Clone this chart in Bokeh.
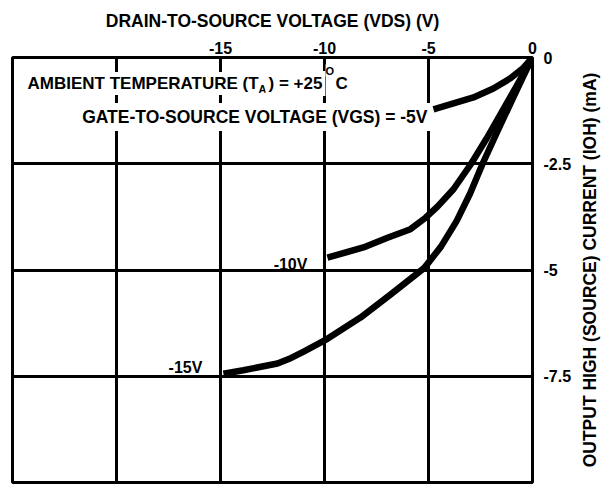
import math
from bokeh.plotting import figure
from bokeh.layouts import row
from bokeh.models import LinearAxis, FixedTicker, Label, Range1d, Grid
from bokeh.core.properties import value
from bokeh.embed import file_html
from bokeh.resources import INLINE

# ---- data ----
x_ticks = [-15, -10, -5, 0]
x_tick_labels = ["-15", "-10", "-5", "0"]
x_grid = [-20, -15, -10, -5]
y_ticks = [0, -2.5, -5, -7.5]
y_tick_labels = ["0", "-2.5", "-5", "-7.5"]
y_grid = [-2.5, -5, -7.5]

# VGS = -5V
vgs5_vds = [-4.76, -3.80, -2.84, -1.88, -1.06, -0.43, 0.0]
vgs5_ioh = [-1.22, -1.08, -0.94, -0.73, -0.49, -0.24, 0.0]

# VGS = -10V
vgs10_vds = [-9.86, -8.13, -6.97, -5.87, -5.14, -4.57, -3.80, -2.95, -2.2, -1.5, -0.8, 0.0]
vgs10_ioh = [-4.71, -4.47, -4.24, -4.04, -3.77, -3.51, -3.10, -2.50, -1.9, -1.3, -0.7, 0.0]

# VGS = -15V
vgs15_vds = [-14.86, -13.9, -12.26, -11.6, -11.0, -9.86, -8.27, -6.83, -5.2, -4.4, -3.65, -3.0, -2.4, -1.7, -1.0, -0.45, 0.0]
vgs15_ioh = [-7.44, -7.36, -7.20, -7.07, -6.92, -6.62, -6.12, -5.58, -4.95, -4.45, -3.85, -3.2, -2.5, -1.75, -1.02, -0.45, 0.0]

x_title = "DRAIN-TO-SOURCE VOLTAGE (VDS) (V)"
y_title = "OUTPUT HIGH (SOURCE) CURRENT (IOH) (mA)"

FONT = "Liberation Sans"

p = figure(width=575, height=485, x_range=Range1d(-25, 0), y_range=Range1d(-10, 0),
           output_backend="svg", toolbar_location=None,
           x_axis_location=None, y_axis_location=None,
           min_border_left=12, min_border_right=43, min_border_top=57, min_border_bottom=3)
p.grid.visible = False
p.outline_line_color = "black"
p.outline_line_width = 3
p.outline_line_alpha = 1.0
p.background_fill_color = "white"
p.border_fill_color = "white"

p.add_layout(Grid(dimension=0, ticker=FixedTicker(ticks=x_grid),
                  grid_line_color="black", grid_line_width=3))
p.add_layout(Grid(dimension=1, ticker=FixedTicker(ticks=y_grid),
                  grid_line_color="black", grid_line_width=3))

ax = LinearAxis(ticker=FixedTicker(ticks=x_ticks),
                major_label_overrides=dict(zip(x_ticks, x_tick_labels)),
                axis_label=x_title)
ay = LinearAxis(ticker=FixedTicker(ticks=y_ticks),
                major_label_overrides=dict(zip(y_ticks, y_tick_labels)))
for a in (ax, ay):
    a.axis_line_color = None
    a.major_tick_line_color = None
    a.minor_tick_line_color = None
    a.major_tick_out = 0
    a.major_tick_in = 0
    a.minor_tick_out = 0
    a.minor_tick_in = 0
    a.major_label_text_font = FONT
    a.major_label_text_font_style = "bold"
    a.major_label_text_font_size = "16px"
    a.major_label_text_color = "black"
    a.axis_label_text_font = FONT
    a.axis_label_text_font_style = "bold"
    a.axis_label_text_font_size = "17.5px"
    a.axis_label_text_color = "black"
ax.major_label_standoff = 4
ax.axis_label_standoff = 8
ay.major_label_standoff = 11
p.add_layout(ax, "above")
p.add_layout(ay, "right")

for xs, ys in ((vgs5_vds, vgs5_ioh), (vgs10_vds, vgs10_ioh), (vgs15_vds, vgs15_ioh)):
    p.line(xs, ys, line_width=6.5, line_color="black", line_join="round", line_cap="butt")


def lab(x, y, text, size="17px", align="left", bg=True, pad=2):
    kw = dict(x=x, y=y, text=text, text_font=FONT, text_font_style="bold",
              text_font_size=size, text_color="black", text_align=align,
              text_baseline="alphabetic")
    if bg:
        kw.update(background_fill_color="white", padding=pad)
        kw.update(x_offset=(pad if align == "right" else -pad))
    p.add_layout(Label(**kw))


lab(-13.17, -0.612, "AMBIENT TEMPERATURE (T", align="right")
lab(-13.17, -0.73, "A", size="11px", pad=0)
lab(-12.69, -0.612, ") = +25", pad=3)
lab(-9.95, -0.306, "O", size="11px", pad=0)
lab(-9.47, -0.612, "C", pad=0)
lab(-5.05, -1.40, "GATE-TO-SOURCE VOLTAGE (VGS) = -5V", size="17.5px", align="right", pad=4)
lab(-10.82, -4.87, "-10V", size="16px", align="right", bg=False)
lab(-15.87, -7.29, "-15V", size="16px", align="right", bg=False)

# narrow strip on the right carrying the rotated y-axis title (reads bottom-to-top)
side = figure(width=33, height=485, x_range=Range1d(0, 1), y_range=Range1d(0, 1),
              output_backend="svg", toolbar_location=None,
              x_axis_location=None, y_axis_location=None,
              min_border_left=0, min_border_right=0, min_border_top=57, min_border_bottom=3)
side.grid.visible = False
side.outline_line_color = None
side.background_fill_color = "white"
side.border_fill_color = "white"
side.text(x=[0.45], y=[0.5], text=[y_title], angle=math.pi / 2,
          text_align="center", text_baseline="middle",
          text_font=value(FONT), text_font_style="bold", text_font_size="17.5px",
          text_color="black")

layout = row(p, side, spacing=0)
open("out.html", "w").write(file_html(layout, INLINE))
